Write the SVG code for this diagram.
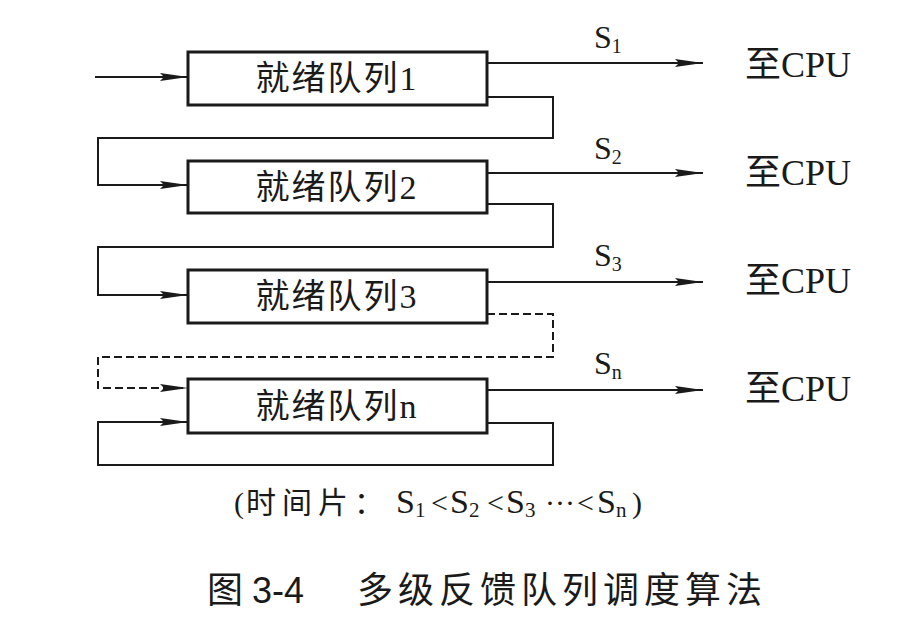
<svg xmlns="http://www.w3.org/2000/svg" width="904" height="625" viewBox="0 0 904 625">
<style>
.box{fill:#fff;stroke:#1a1a1a;stroke-width:3}
.ln{fill:none;stroke:#1a1a1a;stroke-width:2}
.dash{stroke-dasharray:8 4}
.bt{font-family:"Liberation Serif","Noto Sans CJK SC",serif;font-size:34px;fill:#1a1a1a;text-anchor:middle;letter-spacing:2px}
.s{font-family:"Liberation Serif",serif;font-size:32px;fill:#1a1a1a}
.sub{font-size:20px}
.cpu{font-family:"Liberation Serif","Noto Sans CJK SC",serif;font-size:36px;fill:#1a1a1a}
.cap{font-family:"Liberation Serif","Noto Sans CJK SC",serif;font-size:30px;fill:#1a1a1a}
.cs{font-size:34px}
.csub{font-size:21px}
.title{font-family:"Liberation Sans","Noto Sans CJK SC",sans-serif;font-size:36px;fill:#1a1a1a}
</style>
<defs>
<marker id="arr" markerUnits="userSpaceOnUse" markerWidth="30" markerHeight="10" refX="28" refY="4.5" orient="auto">
<path d="M0,0.5 L28,4.5 L0,8.5 L4,4.5 z" fill="#1a1a1a"/>
</marker>
</defs>
<rect width="904" height="625" fill="#fff"/>
<g id="connectors">
<path class="ln" d="M95,77 H188" marker-end="url(#arr)"/>
<path class="ln" d="M487,63 H703" marker-end="url(#arr)"/>
<path class="ln" d="M487,173 H703" marker-end="url(#arr)"/>
<path class="ln" d="M487,282 H703" marker-end="url(#arr)"/>
<path class="ln" d="M487,390 H703" marker-end="url(#arr)"/>
<path class="ln" d="M487,97 H553 V138 H98 V185 H188" marker-end="url(#arr)"/>
<path class="ln" d="M487,204 H553 V247 H98 V295 H188" marker-end="url(#arr)"/>
<path class="ln dash" d="M487,314 H553 V357 H98 V388 H188" marker-end="url(#arr)"/>
<path class="ln" d="M487,423 H553 V465 H98 V422 H188" marker-end="url(#arr)"/>
</g>
<g id="q1"><rect class="box" x="188" y="52" width="299" height="53"/><text class="bt" x="337" y="90">就绪队列1</text></g>
<g id="q2"><rect class="box" x="188" y="161" width="299" height="52"/><text class="bt" x="337" y="199">就绪队列2</text></g>
<g id="q3"><rect class="box" x="188" y="270" width="299" height="53"/><text class="bt" x="337" y="308">就绪队列3</text></g>
<g id="qn"><rect class="box" x="188" y="379" width="299" height="54"/><text class="bt" x="337" y="418">就绪队列n</text></g>
<g id="labels">
<text class="s" x="594" y="48">S<tspan class="sub" dy="5">1</tspan></text>
<text class="s" x="594" y="159">S<tspan class="sub" dy="5">2</tspan></text>
<text class="s" x="594" y="266">S<tspan class="sub" dy="5">3</tspan></text>
<text class="s" x="594" y="374">S<tspan class="sub" dy="5">n</tspan></text>
<text class="cpu" x="745" y="77">至CPU</text>
<text class="cpu" x="745" y="185">至CPU</text>
<text class="cpu" x="745" y="293">至CPU</text>
<text class="cpu" x="745" y="401">至CPU</text>
</g>
<g id="caption">
<text class="cap" y="513"><tspan x="234">(</tspan><tspan x="246" letter-spacing="6">时间片：</tspan><tspan x="396" class="cs">S</tspan><tspan class="csub" dy="4">1</tspan><tspan x="431" dy="-4">&lt;</tspan><tspan x="450" class="cs">S</tspan><tspan class="csub" dy="4">2</tspan><tspan x="487" dy="-4">&lt;</tspan><tspan x="506" class="cs">S</tspan><tspan class="csub" dy="4">3</tspan><tspan x="545" dy="-4">·</tspan><tspan x="555">·</tspan><tspan x="565">·</tspan><tspan x="577">&lt;</tspan><tspan x="597" class="cs">S</tspan><tspan class="csub" dy="4">n</tspan><tspan x="632" dy="-4">)</tspan></text>
<text class="title" y="603"><tspan x="207">图</tspan><tspan x="252">3-4</tspan><tspan x="357" letter-spacing="5">多级反馈队列调度算法</tspan></text>
</g>
</svg>
